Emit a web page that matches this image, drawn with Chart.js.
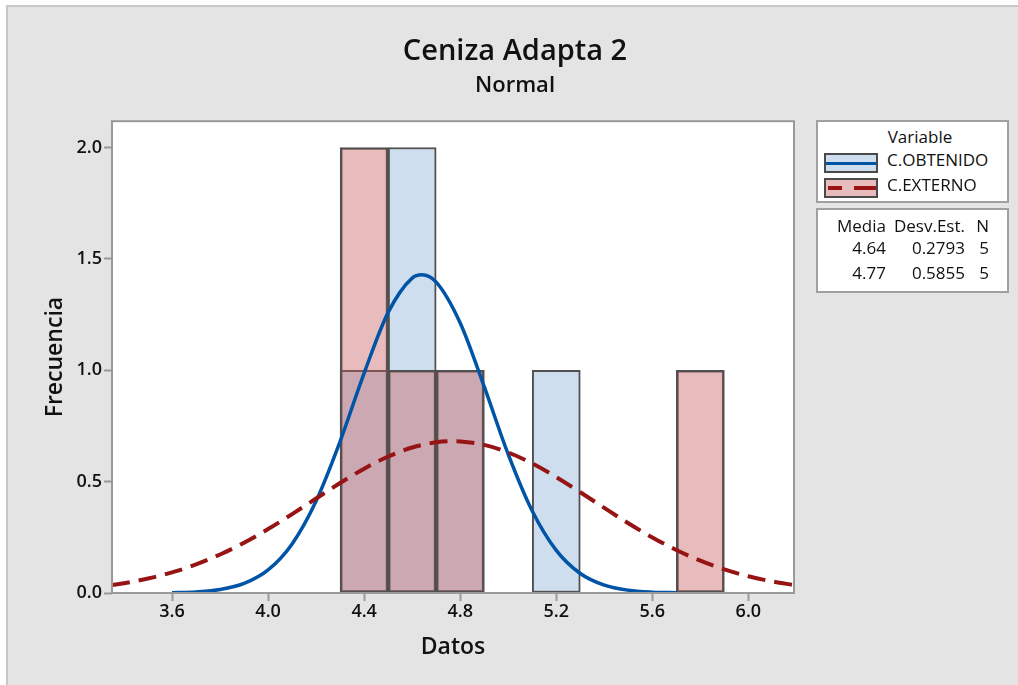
<!DOCTYPE html>
<html>
<head>
<meta charset="utf-8">
<script src="https://cdn.jsdelivr.net/npm/chart.js@4.4.1/dist/chart.umd.min.js"></script>
<style>
  html, body { margin: 0; padding: 0; background: #fff; }
  #wrap { position: relative; width: 1018px; height: 685px; font-family: 'Open Sans', 'Noto Sans', sans-serif; color: #111; }
  #chart { position: absolute; left: 0; top: 0; }
  .box { position: absolute; background: #fff; border: 2px solid #a0a0a0; box-sizing: border-box; }
  .t { position: absolute; font-size: 17px; font-weight: 400; line-height: 20px; white-space: nowrap; }
  .r { text-align: right; }
  .sw { position: absolute; width: 54px; height: 20px; border: 2px solid #4a4a4a; box-sizing: border-box; }
  .ln { position: absolute; height: 4px; top: 6px; }
</style>
</head>
<body>
<div id="wrap">
  <canvas id="chart" width="1018" height="685"></canvas>

  <!-- legend: variables -->
  <div class="box" style="left:816px;top:120px;width:193px;height:83px;"></div>
  <div class="t" style="left:875px;top:127px;width:90px;text-align:center;">Variable</div>
  <div class="sw" style="left:824px;top:153px;background:#cfdeee;">
    <div class="ln" style="left:0;width:50px;background:#0054a6;height:3px;top:7px;"></div>
  </div>
  <div class="t" style="left:887px;top:150px;">C.OBTENIDO</div>
  <div class="sw" style="left:824px;top:178px;background:#e8bcbc;">
    <div class="ln" style="left:2px;width:14px;background:#961414;"></div>
    <div class="ln" style="left:28px;width:22px;background:#961414;"></div>
  </div>
  <div class="t" style="left:887px;top:175px;">C.EXTERNO</div>

  <!-- legend: stats table -->
  <div class="box" style="left:816px;top:208px;width:193px;height:85px;"></div>
  <div id="stats"></div>
</div>

<script>
// histogram bins (width 0.2) and counts
const binCenters = [4.4, 4.6, 4.8, 5.0, 5.2, 5.4, 5.6, 5.8];
const obtenidoCounts = [1, 2, 1, 0, 1, 0, 0, 0];
const externoCounts = [2, 1, 1, 0, 0, 0, 0, 1];

// fitted normal curves
const obtenidoCurveX = [3.6, 3.7, 3.8, 3.9, 4.0, 4.1, 4.2, 4.3, 4.4, 4.5, 4.6, 4.64, 4.7, 4.8, 4.9, 5.0, 5.1, 5.2, 5.3, 5.4, 5.5, 5.6, 5.7];
const obtenidoCurveY = [0.0014, 0.0050, 0.0155, 0.0427, 0.1035, 0.2204, 0.4130, 0.6809, 0.9875, 1.2597, 1.4138, 1.4284, 1.3958, 1.2123, 0.9262, 0.6224, 0.3681, 0.1914, 0.0876, 0.0353, 0.0125, 0.0039, 0.0011];
const externoCurveX = [3.35, 3.4, 3.5, 3.6, 3.7, 3.8, 3.9, 4.0, 4.1, 4.2, 4.3, 4.4, 4.5, 4.6, 4.7, 4.77, 4.8, 4.9, 5.0, 5.1, 5.2, 5.3, 5.4, 5.5, 5.6, 5.7, 5.8, 5.9, 6.0, 6.1, 6.19];
const externoCurveY = [0.0360, 0.0441, 0.0648, 0.0925, 0.1283, 0.1728, 0.2260, 0.2870, 0.3541, 0.4242, 0.4937, 0.5581, 0.6127, 0.6533, 0.6765, 0.6814, 0.6805, 0.6649, 0.6308, 0.5814, 0.5203, 0.4523, 0.3819, 0.3132, 0.2495, 0.1930, 0.1450, 0.1058, 0.0750, 0.0516, 0.0360];

const xTicks = [3.6, 4.0, 4.4, 4.8, 5.2, 5.6, 6.0];
const yTicks = [0.0, 0.5, 1.0, 1.5, 2.0];

// stats table
const statHeader = ['Media', 'Desv.Est.', 'N'];
const statRows = [['4.64', '0.2793', '5'], ['4.77', '0.5855', '5']];

const colRight = [886, 965, 989];
const rowTop = [216, 238, 263];
const stats = document.getElementById('stats');
[statHeader].concat(statRows).forEach((row, r) => {
  row.forEach((txt, c) => {
    const d = document.createElement('div');
    d.className = 't r';
    d.textContent = txt;
    d.style.right = (1018 - colRight[c]) + 'px';
    d.style.top = rowTop[r] + 'px';
    stats.appendChild(d);
  });
});

const pts = (xs, ys) => xs.map((x, i) => ({ x: x, y: ys[i] }));

const frame = {
  id: 'frame',
  beforeDraw(chart) {
    const ctx = chart.ctx;
    const a = chart.chartArea;
    ctx.save();
    ctx.fillStyle = '#ffffff';
    ctx.fillRect(0, 0, chart.width, chart.height);
    ctx.fillStyle = '#c8c8c8';
    ctx.fillRect(6, 5, chart.width - 6, chart.height - 5);
    ctx.fillStyle = '#e4e4e4';
    ctx.fillRect(8, 7, chart.width - 8, chart.height - 7);
    ctx.fillStyle = '#ffffff';
    ctx.fillRect(a.left, a.top, a.right - a.left, a.bottom - a.top);
    ctx.restore();
  },
  afterDatasetsDraw(chart) {
    const ctx = chart.ctx;
    const a = chart.chartArea;
    ctx.save();
    ctx.strokeStyle = '#999999';
    ctx.lineWidth = 2;
    ctx.strokeRect(a.left, a.top, a.right - a.left, a.bottom - a.top);
    ctx.restore();
  }
};

const tickFont = { family: "'Open Sans', 'Noto Sans', sans-serif", size: 18, weight: '600' };
const titleFont = { family: "'Open Sans', 'Noto Sans', sans-serif", size: 23, weight: '600' };

new Chart(document.getElementById('chart'), {
  type: 'bar',
  data: {
    datasets: [
      {
        type: 'line',
        label: 'C.EXTERNO curve',
        data: pts(externoCurveX, externoCurveY),
        borderColor: '#961414',
        borderWidth: 4,
        borderDash: [18, 9],
        pointRadius: 0,
        cubicInterpolationMode: 'monotone',
        fill: false,
        order: 0
      },
      {
        type: 'line',
        label: 'C.OBTENIDO curve',
        data: pts(obtenidoCurveX, obtenidoCurveY),
        borderColor: '#0054a6',
        borderWidth: 3.5,
        pointRadius: 0,
        cubicInterpolationMode: 'monotone',
        fill: false,
        order: 1
      },
      {
        label: 'C.EXTERNO',
        data: pts(binCenters, externoCounts),
        backgroundColor: 'rgba(197, 88, 88, 0.4)',
        borderColor: '#505050',
        borderWidth: 2,
        borderSkipped: false,
        grouped: false,
        barPercentage: 1,
        categoryPercentage: 1,
        order: 2
      },
      {
        label: 'C.OBTENIDO',
        data: pts(binCenters, obtenidoCounts),
        backgroundColor: '#cfdeee',
        borderColor: '#505050',
        borderWidth: 2,
        borderSkipped: false,
        grouped: false,
        barPercentage: 1,
        categoryPercentage: 1,
        order: 3
      }
    ]
  },
  options: {
    responsive: false,
    animation: false,
    devicePixelRatio: 1,
    layout: { padding: { left: 12, right: 0, top: 0, bottom: 0 } },
    plugins: {
      legend: { display: false },
      tooltip: { enabled: false },
      title: {
        display: true,
        text: 'Ceniza Adapta 2',
        color: '#111',
        font: { family: "'Open Sans', 'Noto Sans', sans-serif", size: 29, weight: '600' },
        padding: { top: 34, bottom: 0 }
      },
      subtitle: {
        display: true,
        text: 'Normal',
        color: '#111',
        font: { family: "'Open Sans', 'Noto Sans', sans-serif", size: 22, weight: '600' },
        padding: { top: 4, bottom: 22 }
      }
    },
    scales: {
      x: {
        type: 'linear',
        position: 'bottom',
        offset: false,
        min: 3.35,
        max: 6.19,
        afterBuildTicks: s => { s.ticks = xTicks.map(v => ({ value: v })); },
        afterFit: s => { s.height = 92; },
        ticks: { color: '#111', font: tickFont, padding: 0, maxRotation: 0, callback: v => v.toFixed(1) },
        grid: { offset: false, drawOnChartArea: false, drawTicks: true, tickLength: 8, tickColor: '#999999', tickWidth: 2 },
        border: { display: false },
        title: { display: true, text: 'Datos', color: '#111', font: titleFont, padding: { top: 0, bottom: 24 } }
      },
      y: {
        type: 'linear',
        position: 'left',
        min: 0,
        max: 2.118,
        afterBuildTicks: s => { s.ticks = yTicks.map(v => ({ value: v })); },
        afterFit: s => { s.width = 100; },
        ticks: { color: '#111', font: tickFont, padding: 2, callback: v => v.toFixed(1) },
        grid: { drawOnChartArea: false, drawTicks: true, tickLength: 8, tickColor: '#999999', tickWidth: 2 },
        border: { display: false },
        title: { display: true, text: 'Frecuencia', color: '#111', font: titleFont, padding: { top: 30, bottom: 0 } }
      },
      yRight: {
        type: 'linear',
        position: 'right',
        display: true,
        afterFit: s => { s.width = 224; },
        ticks: { display: false },
        grid: { display: false },
        border: { display: false }
      }
    }
  },
  plugins: [frame]
});
</script>
</body>
</html>
